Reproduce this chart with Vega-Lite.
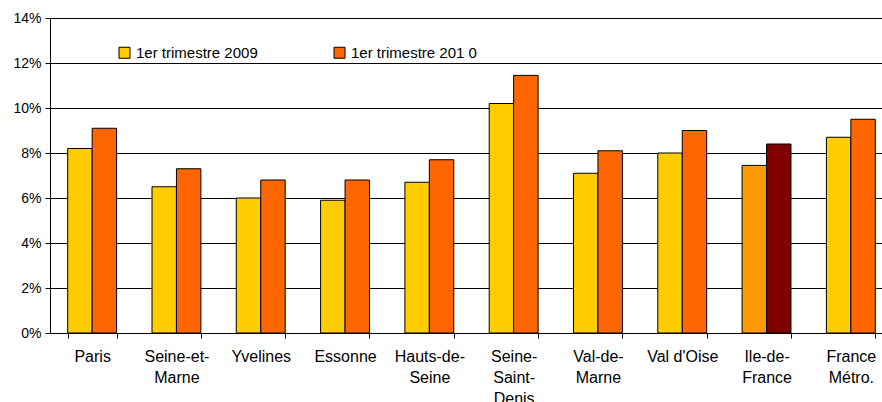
{
  "$schema": "https://vega.github.io/schema/vega-lite/v6.json",
  "width": 843,
  "height": 315,
  "autosize": {"type": "none"},
  "padding": {"left": 50, "top": 18, "right": 0, "bottom": 69},
  "background": "white",
  "config": {"view": {"stroke": null}, "font": "Liberation Sans"},
  "data": {
    "values": [
      {"region": "Paris", "serie": "2009", "cat": "1er trimestre 2009", "taux": 0.082},
      {"region": "Paris", "serie": "2010", "cat": "1er trimestre 201 0", "taux": 0.091},
      {"region": "Seine-et-Marne", "serie": "2009", "cat": "1er trimestre 2009", "taux": 0.065},
      {"region": "Seine-et-Marne", "serie": "2010", "cat": "1er trimestre 201 0", "taux": 0.073},
      {"region": "Yvelines", "serie": "2009", "cat": "1er trimestre 2009", "taux": 0.060},
      {"region": "Yvelines", "serie": "2010", "cat": "1er trimestre 201 0", "taux": 0.068},
      {"region": "Essonne", "serie": "2009", "cat": "1er trimestre 2009", "taux": 0.059},
      {"region": "Essonne", "serie": "2010", "cat": "1er trimestre 201 0", "taux": 0.068},
      {"region": "Hauts-de-Seine", "serie": "2009", "cat": "1er trimestre 2009", "taux": 0.067},
      {"region": "Hauts-de-Seine", "serie": "2010", "cat": "1er trimestre 201 0", "taux": 0.077},
      {"region": "Seine-Saint-Denis", "serie": "2009", "cat": "1er trimestre 2009", "taux": 0.102},
      {"region": "Seine-Saint-Denis", "serie": "2010", "cat": "1er trimestre 201 0", "taux": 0.1145},
      {"region": "Val-de-Marne", "serie": "2009", "cat": "1er trimestre 2009", "taux": 0.071},
      {"region": "Val-de-Marne", "serie": "2010", "cat": "1er trimestre 201 0", "taux": 0.081},
      {"region": "Val d'Oise", "serie": "2009", "cat": "1er trimestre 2009", "taux": 0.080},
      {"region": "Val d'Oise", "serie": "2010", "cat": "1er trimestre 201 0", "taux": 0.090},
      {"region": "Ile-de-France", "serie": "2009", "cat": "Ile-de-France 2009", "taux": 0.0745},
      {"region": "Ile-de-France", "serie": "2010", "cat": "Ile-de-France 2010", "taux": 0.084},
      {"region": "France Métro.", "serie": "2009", "cat": "1er trimestre 2009", "taux": 0.087},
      {"region": "France Métro.", "serie": "2010", "cat": "1er trimestre 201 0", "taux": 0.095}
    ]
  },
  "mark": {"type": "bar", "stroke": "#000", "strokeWidth": 1},
  "encoding": {
    "x": {
      "field": "region", "type": "nominal", "sort": null,
      "scale": {"paddingInner": 0.42, "paddingOuter": 0.21},
      "axis": {
        "title": null, "labelAngle": 0, "tickBand": "extent",
        "domainColor": "#000", "tickColor": "#000", "tickSize": 5,
        "labelFontSize": 16, "labelColor": "#000", "labelPadding": 10,
        "labelLineHeight": 21, "labelBaseline": "top",
        "labelExpr": "datum.label == 'Seine-et-Marne' ? ['Seine-et-','Marne'] : datum.label == 'Hauts-de-Seine' ? ['Hauts-de-','Seine'] : datum.label == 'Seine-Saint-Denis' ? ['Seine-','Saint-','Denis'] : datum.label == 'Val-de-Marne' ? ['Val-de-','Marne'] : datum.label == 'Ile-de-France' ? ['Ile-de-','France'] : datum.label == 'France Métro.' ? ['France','Métro.'] : datum.label"
      }
    },
    "xOffset": {"field": "serie", "type": "nominal", "sort": null},
    "y": {
      "field": "taux", "type": "quantitative",
      "scale": {"domain": [0, 0.14]},
      "axis": {
        "title": null, "format": ".0%",
        "values": [0, 0.02, 0.04, 0.06, 0.08, 0.1, 0.12, 0.14],
        "grid": true, "gridColor": "#000", "gridOpacity": 1,
        "domainColor": "#000", "tickColor": "#000", "tickSize": 5,
        "labelFontSize": 14, "labelPadding": 4, "labelColor": "#000"
      }
    },
    "color": {
      "field": "cat", "type": "nominal",
      "scale": {
        "domain": ["1er trimestre 2009", "1er trimestre 201 0", "Ile-de-France 2009", "Ile-de-France 2010"],
        "range": ["#FFCC00", "#FF6600", "#FF9900", "#800000"]
      },
      "legend": {
        "values": ["1er trimestre 2009", "1er trimestre 201 0"],
        "title": null, "orient": "none", "legendX": 67, "legendY": 27,
        "direction": "horizontal", "symbolType": "square",
        "symbolStrokeColor": "#000", "symbolStrokeWidth": 1, "symbolSize": 121,
        "symbolOpacity": 1, "labelFontSize": 15, "labelColor": "#000",
        "columnPadding": 74, "labelOffset": 4
      }
    }
  }
}
